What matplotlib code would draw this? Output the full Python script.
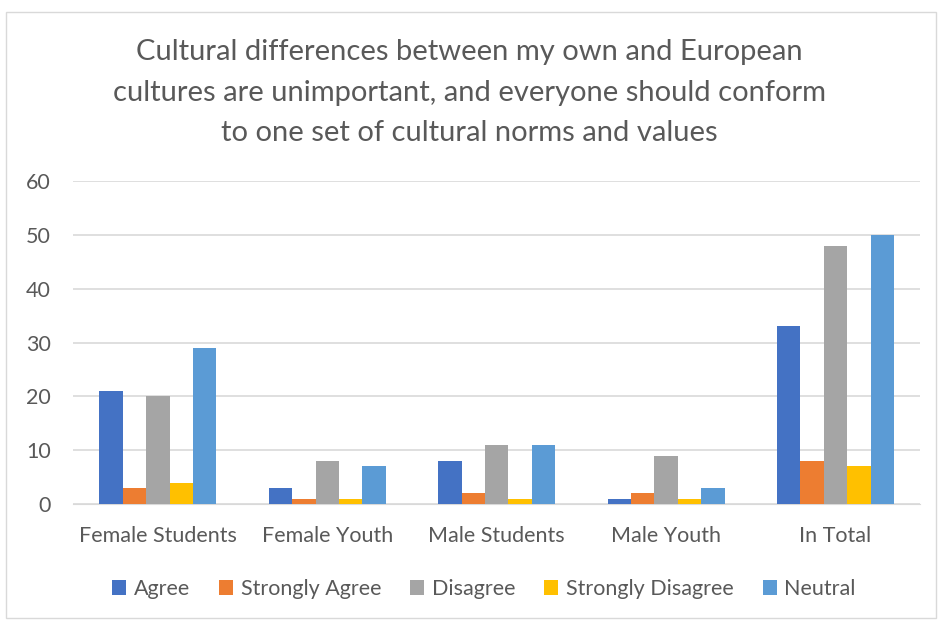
import matplotlib
matplotlib.use("Agg")
import matplotlib.pyplot as plt
import numpy as np
from matplotlib.patches import Rectangle

plt.rcParams['font.family'] = ['Lato', 'DejaVu Sans']

categories = ["Female Students", "Female Youth", "Male Students", "Male Youth", "In Total"]
series = ["Agree", "Strongly Agree", "Disagree", "Strongly Disagree", "Neutral"]
agree = [21, 3, 8, 1, 33]
strongly_agree = [3, 1, 2, 2, 8]
disagree = [20, 8, 11, 9, 48]
strongly_disagree = [4, 1, 1, 1, 7]
neutral = [29, 7, 11, 3, 50]
colors = ["#4472C4", "#ED7D31", "#A5A5A5", "#FFC000", "#5B9BD5"]
text_col = "#595959"

values = [agree, strongly_agree, disagree, strongly_disagree, neutral]

fig = plt.figure(figsize=(9.38, 6.2), dpi=100)
ax = fig.add_axes([0.078, 0.187, 0.903, 0.521])

# chart frame
fig.patches.append(Rectangle((0.006, 0.003), 0.992, 0.978, transform=fig.transFigure,
                             fill=False, edgecolor="#D9D9D9", linewidth=1))

x = np.arange(len(categories))
w = 0.138
for i, (name, vals) in enumerate(zip(series, values)):
    ax.bar(x + (i - 2) * w, vals, w, color=colors[i], label=name, zorder=3)

ax.set_xlim(-0.5, len(categories) - 0.5)
ax.set_ylim(0, 60)
ax.set_yticks(range(0, 61, 10))
ax.set_xticks(x)
ax.set_xticklabels(categories)
ax.grid(axis="y", color="#D9D9D9", linewidth=1.2, zorder=0)
for s in ["top", "right", "left"]:
    ax.spines[s].set_visible(False)
ax.spines["bottom"].set_color("#D9D9D9")
ax.tick_params(length=0, colors=text_col, labelsize=15.5)
ax.tick_params(axis="x", pad=16)
ax.tick_params(axis="y", pad=16)

fig.text(0.5, 0.937, "Cultural differences between my own and European\n"
         "cultures are unimportant, and everyone should conform\n"
         "to one set of cultural norms and values",
         ha="center", va="top", fontsize=21, color=text_col, linespacing=1.7)

leg = fig.legend(loc="center", bbox_to_anchor=(0.516, 0.05), ncol=5, frameon=False,
                 fontsize=15.5, handlelength=0.65, handleheight=0.65,
                 handletextpad=0.35, columnspacing=1.35)
for t in leg.get_texts():
    t.set_color(text_col)

fig.savefig("out.png", dpi=100)
